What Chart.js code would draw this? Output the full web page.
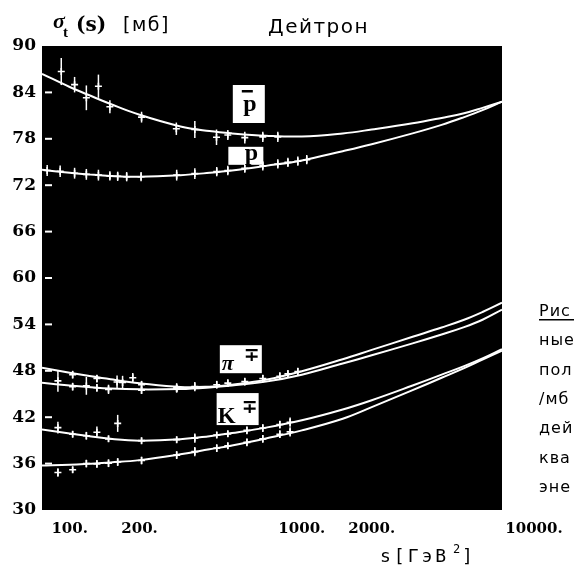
<!DOCTYPE html>
<html><head><meta charset="utf-8">
<script src="https://cdn.jsdelivr.net/npm/chart.js@4/dist/chart.umd.min.js"></script>
<style>html,body{margin:0;padding:0;background:#fff;overflow:hidden}#wrap{width:574px;height:576px;position:relative;overflow:hidden}</style>
</head><body><div id="wrap"><canvas id="c" width="574" height="576"></canvas></div>
<script>
// ---- data (s in GeV^2, sigma_t in mb) ----
const curveS      = [76, 100, 120, 150, 200, 300, 400, 500, 700, 1000, 1500, 2000, 3000, 4000, 5000, 6000, 7280];
const pbarCurve   = [86.4, 84.7, 83.7, 82.5, 81.1, 79.6, 79.0, 78.7, 78.4, 78.3, 78.7, 79.2, 80.0, 80.7, 81.3, 82.0, 82.8];
const pCurve      = [74.0, 73.6, 73.4, 73.2, 73.1, 73.3, 73.6, 73.9, 74.5, 75.2, 76.4, 77.3, 78.7, 79.8, 80.8, 81.7, 82.8];
const piMinusCurve= [48.4, 47.75, 47.35, 46.9, 46.4, 45.9, 45.95, 46.2, 46.85, 47.95, 49.5, 50.7, 52.4, 53.6, 54.6, 55.6, 56.8];
const piPlusCurve = [46.45, 46.1, 45.9, 45.7, 45.6, 45.65, 45.85, 46.1, 46.6, 47.5, 48.95, 50.0, 51.55, 52.7, 53.65, 54.6, 55.9];
const kMinusCurve = [40.4, 39.9, 39.57, 39.2, 38.97, 39.15, 39.55, 39.95, 40.65, 41.6, 43.0, 44.2, 46.1, 47.5, 48.6, 49.6, 50.8];
const kPlusCurve  = [35.75, 35.85, 35.97, 36.15, 36.45, 37.2, 37.85, 38.35, 39.25, 40.3, 41.8, 43.3, 45.5, 47.1, 48.35, 49.45, 50.6];

const pbarS   = [92, 105, 118, 133, 149, 204, 288, 346, 429, 480, 568, 679, 788];
const pbarV   = [86.7, 85.0, 83.3, 84.8, 82.15, 80.8, 79.3, 79.2, 78.2, 78.5, 78.15, 78.25, 78.25];
const pbarE   = [1.75, 1.0, 1.6, 1.5, 0.85, 0.7, 0.8, 1.1, 1.0, 0.65, 0.75, 0.65, 0.65];

const pS      = [80, 91, 105, 118, 133, 149, 161, 176, 203, 289, 346, 430, 480, 568, 679, 788, 871, 961, 1050];
const pV      = [73.9, 73.8, 73.55, 73.4, 73.3, 73.2, 73.15, 73.1, 73.1, 73.3, 73.5, 73.75, 73.9, 74.2, 74.5, 74.75, 74.95, 75.1, 75.3];
const pE      = [0.7, 0.75, 0.7, 0.7, 0.7, 0.6, 0.6, 0.6, 0.6, 0.7, 0.7, 0.6, 0.6, 0.6, 0.6, 0.6, 0.6, 0.6, 0.6];

const piMinusS = [89, 103, 131, 160, 169, 187, 204, 289, 346, 430, 480, 568, 679, 804, 871, 961];
const piMinusV = [46.7, 47.5, 47.0, 46.55, 46.5, 47.1, 46.2, 45.8, 45.95, 46.2, 46.4, 46.6, 47.0, 47.3, 47.6, 47.9];
const piMinusE = [1.4, 0.5, 0.5, 0.85, 0.85, 0.6, 0.5, 0.6, 0.6, 0.5, 0.5, 0.5, 0.5, 0.5, 0.5, 0.5];
const piPlusS  = [103, 118, 131, 147, 204, 289];
const piPlusV  = [45.95, 46.05, 45.8, 45.6, 45.5, 45.7];
const piPlusE  = [0.5, 1.15, 0.5, 0.6, 0.5, 0.5];

const kMinusS = [89, 103, 118, 131, 147, 161, 204, 289, 346, 430, 480, 580, 679, 804, 890];
const kMinusV = [40.65, 39.8, 39.6, 40.05, 39.2, 41.2, 38.97, 39.1, 39.3, 39.7, 39.85, 40.3, 40.6, 41.05, 41.35];
const kMinusE = [0.75, 0.4, 0.5, 0.75, 0.4, 1.1, 0.4, 0.4, 0.6, 0.4, 0.4, 0.5, 0.5, 0.5, 0.6];
const kPlusS  = [89, 103, 118, 131, 147, 161, 204, 289, 346, 430, 480, 580, 679, 804, 890];
const kPlusV  = [34.85, 35.2, 36.0, 35.95, 36.05, 36.2, 36.4, 37.1, 37.55, 38.0, 38.3, 38.75, 39.2, 39.8, 40.1];
const kPlusE  = [0.55, 0.4, 0.5, 0.5, 0.5, 0.5, 0.5, 0.5, 0.6, 0.5, 0.4, 0.5, 0.5, 0.5, 0.6];

const xTickValues = [100, 200, 1000, 2000, 10000];
const xTickLabels = ['100.', '200.', '1000.', '2000.', '10000.'];
const yMin = 30, yMax = 90, yStep = 6;

const titleText = 'Дейтрон';
const sideText = ['Рис', 'ные', 'пол', '/мб', 'дей', 'ква', 'эне'];

// series labels (anchored in data coordinates)
const seriesLabels = [
  {kind:'pbar', s:591, v:82.5},
  {kind:'p',    s:571, v:75.8},
  {kind:'pi',   s:546, v:49.5},
  {kind:'K',    s:529, v:43.05}
];

// ---- build ----
const toXY = (xs, ys) => xs.map((x, i) => ({x, y: ys[i]}));
const W = '#ffffff';
function curve(arr){
  return {type:'line', data: toXY(curveS, arr), borderColor: W, borderWidth: 2, pointRadius: 0,
          tension: 0.4, fill: false, order: 2};
}
function pts(xs, ys, es){
  return {type:'line', data: toXY(xs, ys), errs: es, showLine: false, pointStyle: 'cross',
          pointRadius: 3.5, pointBorderColor: W, pointBorderWidth: 1.6, borderColor: W, order: 1};
}

const decor = {
  id: 'decor',
  beforeDraw(chart){
    const {ctx, chartArea: a} = chart;
    ctx.save();
    ctx.fillStyle = '#fff'; ctx.fillRect(0, 0, chart.width, chart.height);
    ctx.fillStyle = '#000'; ctx.fillRect(a.left, a.top, a.right - a.left, a.bottom - a.top);
    ctx.restore();
  },
  afterDatasetsDraw(chart){
    const {ctx, chartArea: a} = chart;
    const ys = chart.scales.y;
    ctx.save();
    ctx.strokeStyle = W; ctx.lineWidth = 1.5;
    chart.data.datasets.forEach((ds, i) => {
      if (!ds.errs) return;
      const meta = chart.getDatasetMeta(i);
      meta.data.forEach((el, j) => {
        const v = ds.data[j].y, e = ds.errs[j];
        ctx.beginPath();
        ctx.moveTo(el.x, ys.getPixelForValue(v + e));
        ctx.lineTo(el.x, ys.getPixelForValue(v - e));
        ctx.stroke();
      });
    });
    // inner y tick marks
    ctx.lineWidth = 2;
    for (let v = yMin + yStep; v < yMax; v += yStep) {
      const y = ys.getPixelForValue(v);
      ctx.beginPath(); ctx.moveTo(a.left + 3, y); ctx.lineTo(a.left + 10, y); ctx.stroke();
    }
    ctx.restore();
  },
  afterDraw(chart){
    const {ctx, chartArea: a} = chart;
    const xs = chart.scales.x, ys = chart.scales.y;
    ctx.save();
    ctx.fillStyle = '#000';
    // x tick labels
    ctx.font = 'bold 15px "DejaVu Serif", serif';
    ctx.textAlign = 'center'; ctx.textBaseline = 'alphabetic';
    xTickValues.forEach((v, i) => ctx.fillText(xTickLabels[i], xs.getPixelForValue(v), 533));
    // title
    ctx.font = '20px "DejaVu Sans", sans-serif';
    ctx.letterSpacing = '1.5px';
    ctx.textAlign = 'left';
    ctx.fillText(titleText, 268, 33);
    // y axis title: σ_t(s) [мб]
    ctx.letterSpacing = '0px';
    ctx.font = 'italic bold 22px "Liberation Serif", serif';
    ctx.fillText('σ', 53, 28);
    ctx.font = 'bold 15px "Liberation Serif", serif';
    ctx.fillText('t', 63, 37);
    ctx.font = 'bold 20px "DejaVu Serif", serif';
    ctx.fillText('(s)', 76, 31);
    ctx.font = '19px "DejaVu Sans", sans-serif';
    ctx.letterSpacing = '1.5px';
    ctx.fillText('[мб]', 123, 31);
    // x axis title: s[ГэВ²]
    ctx.font = '18px "DejaVu Sans Mono", monospace';
    ctx.letterSpacing = '3px';
    ctx.fillText('s[ГэВ', 380, 562);
    ctx.letterSpacing = '0px';
    ctx.font = '12px "DejaVu Sans Mono", monospace';
    ctx.fillText('2', 453, 553);
    ctx.font = '18px "DejaVu Sans Mono", monospace';
    ctx.fillText(']', 462, 562);
    // side caption (cut by page edge)
    ctx.font = '16px "DejaVu Sans", sans-serif';
    ctx.letterSpacing = '1px';
    sideText.forEach((t, i) => ctx.fillText(t, 539, 316 + i * 29.3));
    ctx.letterSpacing = '0px';
    ctx.fillRect(539, 319, 40, 1.5);
    // series labels in white boxes
    seriesLabels.forEach(l => {
      const cx = xs.getPixelForValue(l.s), cy = ys.getPixelForValue(l.v);
      ctx.fillStyle = '#fff';
      if (l.kind === 'pbar') {
        ctx.fillRect(cx - 16, cy - 19, 32, 38);
        ctx.fillStyle = '#000';
        ctx.font = 'bold 24px "Liberation Serif", serif';
        ctx.textAlign = 'center';
        ctx.fillText('p', cx + 1, cy + 7);
        ctx.fillRect(cx - 7, cy - 14, 11, 2.5);
      } else if (l.kind === 'p') {
        ctx.fillRect(cx - 17, cy - 9, 35, 18);
        ctx.fillStyle = '#000';
        ctx.font = 'bold 24px "Liberation Serif", serif';
        ctx.textAlign = 'center';
        ctx.fillText('p', cx + 6, cy + 4);
      } else if (l.kind === 'pi') {
        ctx.fillRect(cx - 21, cy - 14, 42, 28);
        ctx.fillStyle = '#000';
        ctx.textAlign = 'center';
        ctx.font = 'italic bold 22px "Liberation Serif", serif';
        ctx.fillText('π', cx - 13, cy + 11);
        ctx.font = 'bold 19px "DejaVu Sans", sans-serif';
        ctx.fillText('∓', cx + 11, cy + 2);
      } else if (l.kind === 'K') {
        ctx.fillRect(cx - 21, cy - 16, 42, 32);
        ctx.fillStyle = '#000';
        ctx.textAlign = 'center';
        ctx.font = 'bold 23px "Liberation Serif", serif';
        ctx.fillText('K', cx - 11, cy + 14);
        ctx.font = 'bold 19px "DejaVu Sans", sans-serif';
        ctx.fillText('∓', cx + 12, cy + 4);
      }
      ctx.textAlign = 'left';
    });
    ctx.restore();
  }
};

new Chart(document.getElementById('c'), {
  type: 'line',
  data: {
    datasets: [
      curve(pbarCurve), curve(pCurve), curve(piMinusCurve), curve(piPlusCurve), curve(kMinusCurve), curve(kPlusCurve),
      pts(pbarS, pbarV, pbarE), pts(pS, pV, pE), pts(piMinusS, piMinusV, piMinusE), pts(piPlusS, piPlusV, piPlusE),
      pts(kMinusS, kMinusV, kMinusE), pts(kPlusS, kPlusV, kPlusE)
    ]
  },
  options: {
    responsive: false, animation: false, devicePixelRatio: 1,
    layout: {padding: {left: 0, right: 72, top: 46, bottom: 0}},
    plugins: {legend: {display: false}, tooltip: {enabled: false}, title: {display: false}},
    scales: {
      x: {type: 'logarithmic', min: 76, max: 7280,
          ticks: {display: false}, grid: {display: false}, border: {display: false},
          afterFit(s){ s.height = 66; }},
      y: {type: 'linear', min: yMin, max: yMax,
          ticks: {stepSize: yStep, color: '#000', padding: 6,
                  font: {family: '"DejaVu Serif", serif', weight: 'bold', size: 17}},
          grid: {display: false, drawTicks: false}, border: {display: false},
          afterFit(s){ s.width = 42; }}
    }
  },
  plugins: [decor]
});
</script></body></html>
